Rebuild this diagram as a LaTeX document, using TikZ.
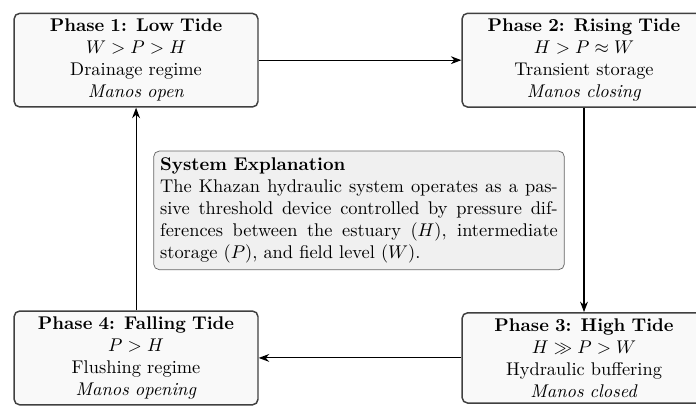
\documentclass[tikz,border=0pt]{standalone}
\usepackage{amsmath,amssymb}
\usetikzlibrary{arrows.meta}
\hyphenation{dif-ferences storage}

\begin{document}
\begin{tikzpicture}[x=1cm,y=1cm,
  phase/.style={draw=black!75,thick,rounded corners=3pt,fill=gray!5,align=center,text width=4.4cm,minimum width=4.66cm,inner sep=3pt},
  note/.style={draw=black!60,rounded corners=3pt,fill=gray!12,align=justify,text width=7.6cm,inner sep=3.5pt},
  flow/.style={-{Stealth},semithick}]
\useasboundingbox (0,0) rectangle (13.30,-7.74);
% the four tidal phases
\node[phase] (low) at (2.60,-1.15) {\textbf{Phase 1: Low Tide}\\\mbox{$W>P>H$}\\Drainage regime\\\textit{Manos open}};
\node[phase] (rise) at (11.16,-1.15) {\textbf{Phase 2: Rising Tide}\\\mbox{$H>P\approx W$}\\Transient storage\\\textit{Manos closing}};
\node[phase] (high) at (11.16,-6.84) {\textbf{Phase 3: High Tide}\\\mbox{$H\gg P>W$}\\Hydraulic buffering\\\textit{Manos closed}};
\node[phase] (fall) at (2.60,-6.84) {\textbf{Phase 4: Falling Tide}\\\mbox{$P>H$}\\Flushing regime\\\textit{Manos opening}};
% cycle
\draw[flow] (low)--(rise);
\draw[flow] (rise)--(high);
\draw[flow] (high)--(fall);
\draw[flow] (fall)--(low);
\node[note] (expl) at (6.86,-4.02) {\textbf{System Explanation}\\The Khazan hydraulic system operates as a passive threshold device controlled by pressure differences between the estuary ($H$), intermediate storage ($P$), and field level ($W$).};
\end{tikzpicture}
\end{document}
